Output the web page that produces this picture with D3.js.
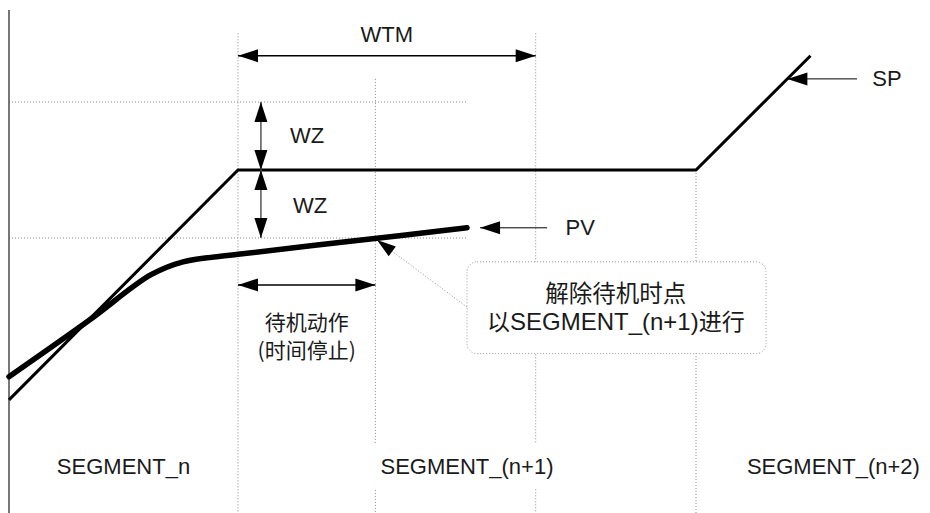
<!DOCTYPE html>
<html>
<head>
<meta charset="utf-8">
<script src="https://cdn.jsdelivr.net/npm/d3@7"></script>
<style>
body{margin:0;background:#fff;}
text{font-family:"Liberation Sans",Arial,sans-serif;font-size:22px;fill:#1a1a1a;}
.cjk{font-family:"Noto Sans CJK SC",sans-serif;font-size:21px;}
.guide{stroke:#8a8a8a;stroke-width:1;stroke-dasharray:1,2;fill:none;}
</style>
</head>
<body>
<div class="graphic"></div>
<script>
var width = 930;
var height = 513;

// set point (SP) and process value (PV), time in arbitrary units
var spTime = [0, 10, 30, 35];
var spValue = [66.2, 100, 100, 116.8];
var pvTime = [0, 3.5, 6.2, 7.6, 10, 15, 20];
var pvValue = [69.6, 77.9, 84.6, 86.5, 87.6, 89.55, 91.5];

var waitStart = 10;   // SP reaches level, wait begins
var waitEnd = 16;     // wait released
var wtmEnd = 23;      // wait time limit
var nextRamp = 30;    // SEGMENT_(n+2) starts
var spLevel = 100;
var wz = 10;

var segmentLabels = ["SEGMENT_n", "SEGMENT_(n+1)", "SEGMENT_(n+2)"];
var standbyLines = ["待机动作", "(时间停止)"];
var releaseLine1 = "解除待机时点";

var svg = d3.select("div.graphic").append("svg")
	.attr("width", width)
	.attr("height", height);

var x = d3.scaleLinear().domain([0, 40]).range([9, 925]);
var y = d3.scaleLinear().domain([50, 125]).range([510, 0]);

function arrowHead(g, tip, from, len, hw){
	var dx = tip[0] - from[0], dy = tip[1] - from[1];
	var d = Math.sqrt(dx*dx + dy*dy);
	var ux = dx/d, uy = dy/d;
	var bx = tip[0] - ux*len, by = tip[1] - uy*len;
	g.append("path")
		.attr("d", "M" + tip + "L" + [bx - uy*hw, by + ux*hw] + "L" + [bx + uy*hw, by - ux*hw] + "Z")
		.attr("fill", "#000");
}

function arrow(g, a, b, both, color, w){
	g.append("line")
		.attr("x1", a[0]).attr("y1", a[1])
		.attr("x2", b[0]).attr("y2", b[1])
		.attr("stroke", color).attr("stroke-width", w);
	arrowHead(g, b, a, 20, 6.5);
	if (both) arrowHead(g, a, b, 20, 6.5);
}

var guides = svg.append("g");
// horizontal wait zone limits
[spLevel + wz, spLevel - wz].forEach(function(v){
	guides.append("line").attr("class", "guide")
		.attr("x1", x(0)).attr("x2", x(20))
		.attr("y1", y(v)).attr("y2", y(v));
});
// vertical segment / timing lines
var vlines = [[waitStart, 120.1], [waitEnd, 113.4], [wtmEnd, 120.1], [nextRamp, spLevel]];
guides.selectAll("line.v")
	.data(vlines)
	.enter()
	.append("line")
	.attr("class", "guide v")
	.attr("x1", function(d){ return x(d[0]); })
	.attr("x2", function(d){ return x(d[0]); })
	.attr("y1", function(d){ return y(d[1]); })
	.attr("y2", height);

// left axis
svg.append("line")
	.attr("x1", x(0)).attr("x2", x(0))
	.attr("y1", 10).attr("y2", height)
	.attr("stroke", "#555").attr("stroke-width", 1.6);

// segment labels, white behind so guides break
var segCenters = [5, 20, 36];
var labels = svg.append("g");
segmentLabels.forEach(function(s, i){
	var t = labels.append("text")
		.attr("x", x(segCenters[i]))
		.attr("y", y(55.3))
		.attr("text-anchor", "middle")
		.text(s);
	if (i == 1){
		var b = t.node().getBBox();
		labels.insert("rect", "text")
			.attr("x", b.x - 6).attr("y", b.y - 10)
			.attr("width", b.width + 12).attr("height", b.height + 20)
			.attr("fill", "#fff");
	}
});

// callout box
var box = svg.append("g");
box.append("line").attr("class", "guide")
	.attr("x1", x(20)).attr("y1", y(79.85))
	.attr("x2", x(16.07)).attr("y2", y(89.7));
arrowHead(box, [x(16.07), y(89.7)], [x(20), y(79.85)], 19, 6);
box.append("rect")
	.attr("x", x(20)).attr("y", y(86.5))
	.attr("width", x(33.06) - x(20)).attr("height", y(73) - y(86.5))
	.attr("rx", 10).attr("ry", 10)
	.attr("fill", "#fff")
	.attr("stroke", "#999").attr("stroke-width", 1).attr("stroke-dasharray", "1,2");
box.append("text").attr("class", "cjk")
	.attr("x", x(26.5)).attr("y", y(80.6))
	.attr("text-anchor", "middle")
	.style("font-size", "23.5px")
	.text(releaseLine1);
var l2 = box.append("text")
	.attr("x", x(26.5)).attr("y", y(76.4))
	.attr("text-anchor", "middle")
	.style("font-size", "24px");
l2.append("tspan").attr("class", "cjk").style("font-size", "23px").text("以");
l2.append("tspan").text(segmentLabels[1]);
l2.append("tspan").attr("class", "cjk").style("font-size", "23px").text("进行");

// SP and PV curves
var spLine = d3.line()
	.x(function(d){ return x(d[0]); })
	.y(function(d){ return y(d[1]); });
var pvLine = d3.line()
	.x(function(d){ return x(d[0]); })
	.y(function(d){ return y(d[1]); })
	.curve(d3.curveCatmullRom.alpha(0.5));

svg.append("path")
	.attr("d", spLine(d3.zip(spTime, spValue)))
	.attr("fill", "none").attr("stroke", "#000").attr("stroke-width", 3)
	.attr("stroke-linejoin", "miter");
svg.append("path")
	.attr("d", pvLine(d3.zip(pvTime, pvValue)))
	.attr("fill", "none").attr("stroke", "#000").attr("stroke-width", 5.5)
	.attr("stroke-linecap", "round");

// dimension arrows
var arrows = svg.append("g");
arrow(arrows, [x(waitStart), y(116.8)], [x(wtmEnd), y(116.8)], true, "#000", 1.5);
arrow(arrows, [x(11), y(spLevel + wz)], [x(11), y(spLevel)], true, "#555", 1.5);
arrow(arrows, [x(11), y(spLevel)], [x(11), y(spLevel - wz)], true, "#555", 1.5);
arrow(arrows, [x(waitStart), y(83.1)], [x(waitEnd), y(83.1)], true, "#000", 1.5);
arrow(arrows, [x(23.5), y(pvValue[pvValue.length - 1])], [x(20.57), y(pvValue[pvValue.length - 1])], false, "#000", 1);
arrow(arrows, [x(37.03), y(113.4)], [x(33.99), y(113.4)], false, "#000", 1);

var txt = svg.append("g");
txt.append("text").attr("x", x(16.5)).attr("y", y(118.8)).attr("text-anchor", "middle").text("WTM");
txt.append("text").attr("x", x(12.27)).attr("y", y(104)).text("WZ");
txt.append("text").attr("x", x(12.4)).attr("y", y(93.7)).text("WZ");
txt.append("text").attr("x", x(24.3)).attr("y", y(90.5)).text("PV");
txt.append("text").attr("x", x(37.7)).attr("y", y(112.3)).text("SP");
standbyLines.forEach(function(s, i){
	txt.append("text").attr("class", "cjk")
		.attr("x", x(13)).attr("y", y(i == 0 ? 76.5 : 72.4))
		.attr("text-anchor", "middle")
		.text(s);
});
</script>
</body>
</html>
